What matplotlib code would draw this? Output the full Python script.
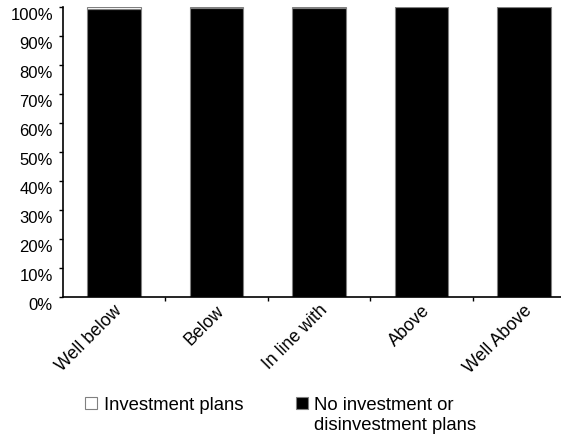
import numpy as np
import matplotlib.pyplot as plt
import matplotlib.transforms as mtransforms
from matplotlib.ticker import PercentFormatter

# data (share of firms, %)
categories = ['Well below', 'Below', 'In line with', 'Above', 'Well Above']
investment = [0.6, 0.3, 0.3, 0, 0]
no_investment = [99.4, 99.7, 99.7, 100, 100]

plt.rcParams['font.family'] = ['Liberation Sans', 'DejaVu Sans']

fig = plt.figure(figsize=(5.61, 4.36), dpi=100)
ax = fig.add_axes([62.7 / 561, 1 - 297 / 436, 1 - 62.7 / 561, (297 - 7.5) / 436])

x = np.arange(len(categories))
w = 0.52
b_no = ax.bar(x, no_investment, w, color='black', edgecolor='#808080', linewidth=0.8)
b_inv = ax.bar(x, investment, w, bottom=no_investment, color='white', edgecolor='#808080',
               linewidth=0.8)

ax.set_xlim(-0.5, 4.36)
ax.set_ylim(0, 100)
ax.yaxis.set_major_formatter(PercentFormatter(decimals=0))
ax.set_yticks(range(0, 101, 10))
ax.tick_params(axis='y', labelsize=12, length=3, width=1, pad=4)
# y tick labels sit a little low in the original
offset = mtransforms.ScaledTranslation(0, -5 / 72, fig.dpi_scale_trans)
for lab in ax.get_yticklabels():
    lab.set_transform(lab.get_transform() + offset)

ax.set_xticks(x)
ax.set_xticklabels(categories, rotation=45, ha='right', va='center',
                   rotation_mode='anchor', fontsize=12.8)
ax.tick_params(axis='x', length=0, pad=8)
xoff = mtransforms.ScaledTranslation(4 / 72, 0, fig.dpi_scale_trans)
for lab in ax.get_xticklabels():
    lab.set_transform(lab.get_transform() + xoff)
ax.set_xticks(x[:-1] + 0.5, minor=True)
ax.tick_params(axis='x', which='minor', length=3, width=1)

for s in ['top', 'right']:
    ax.spines[s].set_visible(False)
ax.spines['left'].set_linewidth(1.2)
ax.spines['bottom'].set_linewidth(1.2)

leg_kw = dict(loc='upper left', frameon=False, fontsize=13.3, handlelength=0.65,
              handleheight=0.65, handletextpad=0.35, borderaxespad=0, borderpad=0)
leg1 = fig.legend([b_inv], ['Investment plans'], bbox_to_anchor=(0.152, 0.09), **leg_kw)
leg2 = fig.legend([b_no], ['No investment or\ndisinvestment plans'],
                  bbox_to_anchor=(0.527, 0.09), **leg_kw)
for t in leg2.get_texts():
    t.set_linespacing(1.25)
# put the square next to the first line of the two-line label
leg2._legend_handle_box.get_children()[0].get_children()[0].align = 'top'

plt.savefig('out.png', dpi=100)
